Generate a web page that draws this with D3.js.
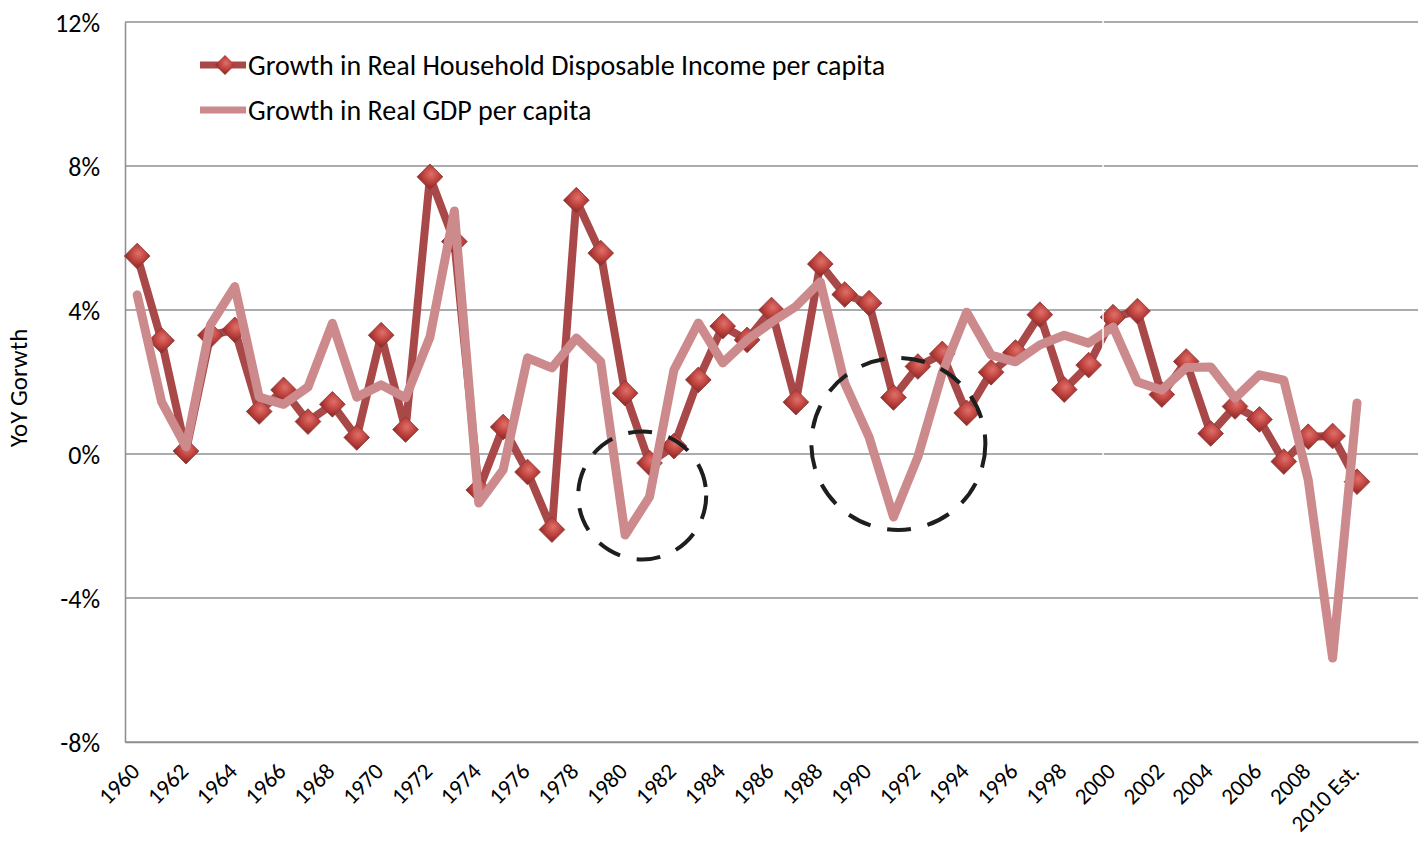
<!DOCTYPE html>
<html>
<head>
<meta charset="utf-8">
<script src="https://cdn.jsdelivr.net/npm/d3@7"></script>
<style>
  body { margin: 0; background: #fff; }
  text { font-family: Carlito, Lato, "Open Sans", sans-serif; fill: #000; }
</style>
</head>
<body>
<div id="chart"></div>
<script>
// years on the x axis (the chart leaves two empty slots after 2010)
var years = d3.range(1960, 2010).map(String).concat(["2010 Est."]);
var income = [5.5, 3.15, 0.08, 3.3, 3.45, 1.18, 1.78, 0.9, 1.38, 0.46, 3.3, 0.68,
  7.7, 5.9, -1.0, 0.75, -0.5, -2.1, 7.05, 5.58, 1.69, -0.25, 0.22, 2.06,
  3.55, 3.17, 4.0, 1.44, 5.28, 4.43, 4.19, 1.57, 2.43, 2.78, 1.14, 2.27,
  2.82, 3.87, 1.79, 2.47, 3.8, 3.97, 1.65, 2.57, 0.57, 1.32, 0.96, -0.21,
  0.48, 0.5, -0.77];
var gdp = [4.42, 1.45, 0.2, 3.58, 4.65, 1.58, 1.38, 1.86, 3.63, 1.58, 1.92, 1.56,
  3.25, 6.75, -1.36, -0.44, 2.67, 2.39, 3.22, 2.56, -2.25, -1.19, 2.33, 3.64,
  2.53, 3.17, 3.66, 4.1, 4.78, 1.97, 0.47, -1.75, -0.08, 2.25, 3.94, 2.75,
  2.56, 3.03, 3.3, 3.08, 3.53, 2.0, 1.78, 2.4, 2.42, 1.55, 2.2, 2.05,
  -0.72, -5.67, 1.42];
var yTicks = [-8, -4, 0, 4, 8, 12];
var seriesNames = ["Growth in Real Household Disposable Income per capita", "Growth in Real GDP per capita"];
// dashed circles: [year index, value, radius x, radius y]
var circles = [[20.7, -1.15, 64, 64], [31.2, 0.28, 87, 86]];

var W = 1423, H = 844;
var plotLeft = 125, plotRight = 1418, plotTop = 22, plotBottom = 742;

var svg = d3.select("#chart").append("svg")
    .attr("width", W)
    .attr("height", H)

var defs = svg.append("defs");
var grad = defs.append("radialGradient").attr("id", "dia")
    .attr("cx", "45%").attr("cy", "35%").attr("r", "70%");
grad.append("stop").attr("offset", "0%").attr("stop-color", "#e0706a");
grad.append("stop").attr("offset", "60%").attr("stop-color", "#c0443f");
grad.append("stop").attr("offset", "100%").attr("stop-color", "#9a2f2d");

var x = d3.scaleBand().domain(d3.range(years.length + 2)).range([plotLeft, plotRight]);
var cx = function(i){ return x(i) + x.bandwidth() / 2; };
var y = d3.scaleLinear().domain([-8, 12]).range([plotBottom, plotTop]);

// gridlines
svg.append("g").selectAll("line").data(yTicks).enter().append("line")
    .attr("x1", plotLeft).attr("x2", plotRight)
    .attr("y1", d => y(d)).attr("y2", d => y(d))
    .attr("stroke", "#8e9096").attr("stroke-width", 1.6);

// y axis
var yAxis = svg.append("g").attr("transform", "translate(" + plotLeft + ",0)")
    .call(d3.axisLeft(y).tickValues(yTicks).tickSize(0).tickPadding(25).tickFormat(d => d + "%"));
yAxis.select(".domain").attr("stroke", "#8e9096").attr("stroke-width", 1.6);
yAxis.selectAll("text").style("font-size", "26px").attr("dy", "0.35em");

// x axis
var xAxis = svg.append("g").attr("transform", "translate(0," + plotBottom + ")")
    .call(d3.axisBottom(x).tickSize(0)
      .tickValues(d3.range(0, years.length, 2))
      .tickFormat(i => years[i]));
xAxis.select(".domain").attr("stroke", "#8e9096").attr("stroke-width", 1.6);
xAxis.selectAll("text")
    .style("font-size", "23px")
    .attr("text-anchor", "end")
    .attr("dy", "0.35em")
    .attr("transform", "translate(-2,25) rotate(-45)")
    .attr("y", 0).attr("x", 0);

svg.append("text")
    .attr("transform", "translate(27,388) rotate(-90)")
    .attr("text-anchor", "middle")
    .style("font-size", "25px")
    .text("YoY Gorwth");

// lines
var line = d3.line().x((d, i) => cx(i)).y(d => y(d));

svg.append("path").datum(income)
    .attr("d", line).attr("fill", "none")
    .attr("stroke", "#a94848").attr("stroke-width", 8).attr("stroke-linejoin", "round");

var diamond = d3.symbol().type(d3.symbolSquare).size(330);
svg.append("g").selectAll("path").data(income).enter().append("path")
    .attr("d", diamond)
    .attr("transform", (d, i) => "translate(" + cx(i) + "," + y(d) + ") rotate(45)")
    .attr("fill", "url(#dia)")
    .attr("stroke", "#8a3a3a").attr("stroke-width", 0.8);

svg.append("path").datum(gdp)
    .attr("d", line).attr("fill", "none")
    .attr("stroke", "#cc8a8c").attr("stroke-width", 9).attr("stroke-linejoin", "round").attr("stroke-linecap", "round");

// dashed circles
svg.append("g").selectAll("ellipse").data(circles).enter().append("ellipse")
    .attr("cx", d => cx(0) + d[0] * x.step())
    .attr("cy", d => y(d[1]))
    .attr("rx", d => d[2]).attr("ry", d => d[3])
    .attr("fill", "none").attr("stroke", "#1e1e1e")
    .attr("stroke-width", 4).attr("stroke-dasharray", "24,17");

// white seam near 2000, as in the source picture
svg.append("line").attr("x1", 1103).attr("x2", 1103).attr("y1", 0).attr("y2", y(-0.1))
    .attr("stroke", "#fff").attr("stroke-width", 1.5);

// legend
var leg = svg.append("g");
leg.append("line").attr("x1", 200).attr("x2", 246).attr("y1", 65).attr("y2", 65)
    .attr("stroke", "#a94848").attr("stroke-width", 7);
leg.append("path").attr("d", d3.symbol().type(d3.symbolSquare).size(200))
    .attr("transform", "translate(225,65) rotate(45)").attr("fill", "url(#dia)");
leg.append("line").attr("x1", 200).attr("x2", 246).attr("y1", 110).attr("y2", 110)
    .attr("stroke", "#cc8a8c").attr("stroke-width", 7);
leg.selectAll("text").data(seriesNames).enter().append("text")
    .attr("x", 248).attr("y", (d, i) => 65 + i * 45)
    .attr("dy", "0.35em")
    .style("font-size", "28px")
    .text(d => d);
</script>
</body>
</html>
